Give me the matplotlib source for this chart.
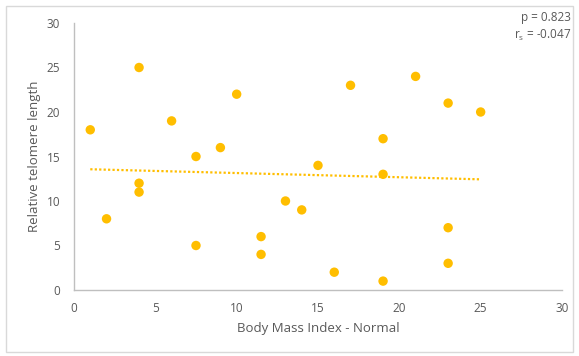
import numpy as np
import matplotlib
matplotlib.use("Agg")
import matplotlib.pyplot as plt
from matplotlib.patches import Rectangle

plt.rcParams['font.family'] = ['Open Sans', 'DejaVu Sans']

bmi = [1, 2, 4, 4, 4, 6, 7.5, 7.5, 9, 10, 11.5, 11.5, 13, 14, 15, 16, 17,
       19, 19, 19, 21, 23, 23, 23, 25]
telomere = [18, 8, 25, 12, 11, 19, 15, 5, 16, 22, 6, 4, 10, 9, 14, 2, 23,
            17, 13, 1, 24, 21, 7, 3, 20]
x_ticks = [0, 5, 10, 15, 20, 25, 30]
y_ticks = [0, 5, 10, 15, 20, 25, 30]
stats_text = ["p = 0.823", r"r$_\mathregular{s}$ = -0.047"]

gold = "#FFBE00"
grey_text = "#595959"

fig = plt.figure(figsize=(5.79, 3.56), dpi=100)
fig.patches.append(Rectangle((6 / 579, 4 / 356), 567 / 579, 346 / 356,
                             transform=fig.transFigure, fill=False,
                             edgecolor="#d9d9d9", linewidth=1.0))

ax = fig.add_axes([74 / 579, 66 / 356, 488 / 579, 267 / 356])
ax.scatter(bmi, telomere, s=46, color=gold, edgecolors="none", zorder=3)

# linear trend line over the data range
slope, intercept = np.polyfit(bmi, telomere, 1)
xs = np.array([min(bmi), max(bmi)])
ax.plot(xs, slope * xs + intercept, linestyle=(0, (1, 1)), color=gold,
        linewidth=1.6, zorder=2)

ax.set_xlim(0, 30)
ax.set_ylim(0, 30)
ax.set_xticks(x_ticks)
ax.set_yticks(y_ticks)
ax.tick_params(length=0, labelsize=8.5, colors=grey_text)
ax.tick_params(axis="y", pad=10)
ax.tick_params(axis="x", pad=9)
for side in ("top", "right"):
    ax.spines[side].set_visible(False)
for side in ("left", "bottom"):
    ax.spines[side].set_color("#bfbfbf")
    ax.spines[side].set_linewidth(1.0)

ax.set_xlabel("Body Mass Index - Normal", fontsize=9.5, color=grey_text, labelpad=5)
ax.set_ylabel("Relative telomere length", fontsize=9.5, color=grey_text, labelpad=4)

fig.text(571 / 579, 1 - 18 / 356, stats_text[0], ha="right", va="center",
         fontsize=8.5, color=grey_text)
fig.text(571 / 579, 1 - 35 / 356, stats_text[1], ha="right", va="center",
         fontsize=8.5, color=grey_text)

fig.savefig("out.png", dpi=100)
